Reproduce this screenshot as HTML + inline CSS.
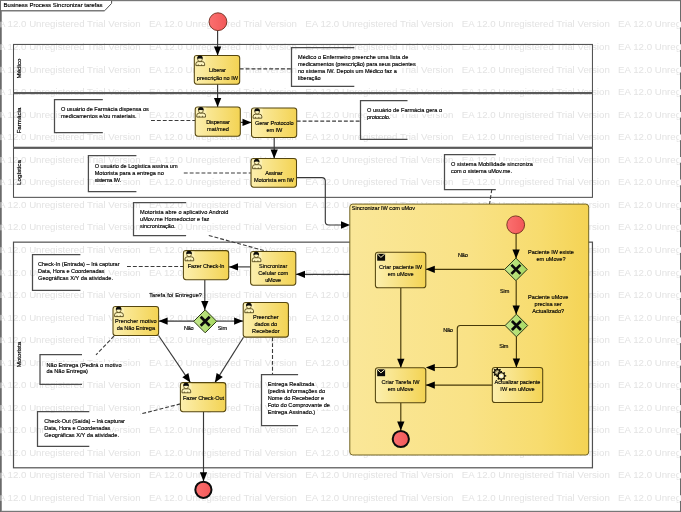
<!DOCTYPE html>
<html lang="pt"><head><meta charset="utf-8"><title>Business Process Sincronizar tarefas</title>
<style>
html,body{margin:0;padding:0;background:#fff;}
body{width:681px;height:512px;overflow:hidden;position:relative;font-family:"Liberation Sans",sans-serif;}
#c{position:absolute;left:0;top:0;width:681px;height:512px;overflow:hidden;background:#fff;}
.wm{position:absolute;font-size:9.7px;line-height:12px;height:12px;color:#e3e3e3;white-space:pre;}
svg{position:absolute;left:0;top:0;}
#wm,#tx{position:absolute;left:0;top:0;width:681px;height:512px;will-change:transform;}
.t{position:absolute;font-size:5.58px;line-height:7.0px;height:7.0px;color:#000;white-space:pre;font-weight:normal;-webkit-text-stroke:0.16px #000;}
.t .bg{background:#fff;display:inline-block;height:7.0px;}
</style></head>
<body><div id="c">
<div id="wm"><span class="wm" style="left:-7.5px;top:18.45px">EA 12.0 Unregistered Trial Version</span><span class="wm" style="left:148.9px;top:18.45px">EA 12.0 Unregistered Trial Version</span><span class="wm" style="left:305.3px;top:18.45px">EA 12.0 Unregistered Trial Version</span><span class="wm" style="left:461.70000000000005px;top:18.45px">EA 12.0 Unregistered Trial Version</span><span class="wm" style="left:618.1px;top:18.45px">EA 12.0 Unregistered Trial Version</span><span class="wm" style="left:-7.5px;top:41.00px">EA 12.0 Unregistered Trial Version</span><span class="wm" style="left:148.9px;top:41.00px">EA 12.0 Unregistered Trial Version</span><span class="wm" style="left:305.3px;top:41.00px">EA 12.0 Unregistered Trial Version</span><span class="wm" style="left:461.70000000000005px;top:41.00px">EA 12.0 Unregistered Trial Version</span><span class="wm" style="left:618.1px;top:41.00px">EA 12.0 Unregistered Trial Version</span><span class="wm" style="left:-7.5px;top:63.55px">EA 12.0 Unregistered Trial Version</span><span class="wm" style="left:148.9px;top:63.55px">EA 12.0 Unregistered Trial Version</span><span class="wm" style="left:305.3px;top:63.55px">EA 12.0 Unregistered Trial Version</span><span class="wm" style="left:461.70000000000005px;top:63.55px">EA 12.0 Unregistered Trial Version</span><span class="wm" style="left:618.1px;top:63.55px">EA 12.0 Unregistered Trial Version</span><span class="wm" style="left:-7.5px;top:86.10px">EA 12.0 Unregistered Trial Version</span><span class="wm" style="left:148.9px;top:86.10px">EA 12.0 Unregistered Trial Version</span><span class="wm" style="left:305.3px;top:86.10px">EA 12.0 Unregistered Trial Version</span><span class="wm" style="left:461.70000000000005px;top:86.10px">EA 12.0 Unregistered Trial Version</span><span class="wm" style="left:618.1px;top:86.10px">EA 12.0 Unregistered Trial Version</span><span class="wm" style="left:-7.5px;top:108.65px">EA 12.0 Unregistered Trial Version</span><span class="wm" style="left:148.9px;top:108.65px">EA 12.0 Unregistered Trial Version</span><span class="wm" style="left:305.3px;top:108.65px">EA 12.0 Unregistered Trial Version</span><span class="wm" style="left:461.70000000000005px;top:108.65px">EA 12.0 Unregistered Trial Version</span><span class="wm" style="left:618.1px;top:108.65px">EA 12.0 Unregistered Trial Version</span><span class="wm" style="left:-7.5px;top:131.20px">EA 12.0 Unregistered Trial Version</span><span class="wm" style="left:148.9px;top:131.20px">EA 12.0 Unregistered Trial Version</span><span class="wm" style="left:305.3px;top:131.20px">EA 12.0 Unregistered Trial Version</span><span class="wm" style="left:461.70000000000005px;top:131.20px">EA 12.0 Unregistered Trial Version</span><span class="wm" style="left:618.1px;top:131.20px">EA 12.0 Unregistered Trial Version</span><span class="wm" style="left:-7.5px;top:153.75px">EA 12.0 Unregistered Trial Version</span><span class="wm" style="left:148.9px;top:153.75px">EA 12.0 Unregistered Trial Version</span><span class="wm" style="left:305.3px;top:153.75px">EA 12.0 Unregistered Trial Version</span><span class="wm" style="left:461.70000000000005px;top:153.75px">EA 12.0 Unregistered Trial Version</span><span class="wm" style="left:618.1px;top:153.75px">EA 12.0 Unregistered Trial Version</span><span class="wm" style="left:-7.5px;top:176.30px">EA 12.0 Unregistered Trial Version</span><span class="wm" style="left:148.9px;top:176.30px">EA 12.0 Unregistered Trial Version</span><span class="wm" style="left:305.3px;top:176.30px">EA 12.0 Unregistered Trial Version</span><span class="wm" style="left:461.70000000000005px;top:176.30px">EA 12.0 Unregistered Trial Version</span><span class="wm" style="left:618.1px;top:176.30px">EA 12.0 Unregistered Trial Version</span><span class="wm" style="left:-7.5px;top:198.85px">EA 12.0 Unregistered Trial Version</span><span class="wm" style="left:148.9px;top:198.85px">EA 12.0 Unregistered Trial Version</span><span class="wm" style="left:305.3px;top:198.85px">EA 12.0 Unregistered Trial Version</span><span class="wm" style="left:461.70000000000005px;top:198.85px">EA 12.0 Unregistered Trial Version</span><span class="wm" style="left:618.1px;top:198.85px">EA 12.0 Unregistered Trial Version</span><span class="wm" style="left:-7.5px;top:221.40px">EA 12.0 Unregistered Trial Version</span><span class="wm" style="left:148.9px;top:221.40px">EA 12.0 Unregistered Trial Version</span><span class="wm" style="left:305.3px;top:221.40px">EA 12.0 Unregistered Trial Version</span><span class="wm" style="left:461.70000000000005px;top:221.40px">EA 12.0 Unregistered Trial Version</span><span class="wm" style="left:618.1px;top:221.40px">EA 12.0 Unregistered Trial Version</span><span class="wm" style="left:-7.5px;top:243.95px">EA 12.0 Unregistered Trial Version</span><span class="wm" style="left:148.9px;top:243.95px">EA 12.0 Unregistered Trial Version</span><span class="wm" style="left:305.3px;top:243.95px">EA 12.0 Unregistered Trial Version</span><span class="wm" style="left:461.70000000000005px;top:243.95px">EA 12.0 Unregistered Trial Version</span><span class="wm" style="left:618.1px;top:243.95px">EA 12.0 Unregistered Trial Version</span><span class="wm" style="left:-7.5px;top:266.50px">EA 12.0 Unregistered Trial Version</span><span class="wm" style="left:148.9px;top:266.50px">EA 12.0 Unregistered Trial Version</span><span class="wm" style="left:305.3px;top:266.50px">EA 12.0 Unregistered Trial Version</span><span class="wm" style="left:461.70000000000005px;top:266.50px">EA 12.0 Unregistered Trial Version</span><span class="wm" style="left:618.1px;top:266.50px">EA 12.0 Unregistered Trial Version</span><span class="wm" style="left:-7.5px;top:289.05px">EA 12.0 Unregistered Trial Version</span><span class="wm" style="left:148.9px;top:289.05px">EA 12.0 Unregistered Trial Version</span><span class="wm" style="left:305.3px;top:289.05px">EA 12.0 Unregistered Trial Version</span><span class="wm" style="left:461.70000000000005px;top:289.05px">EA 12.0 Unregistered Trial Version</span><span class="wm" style="left:618.1px;top:289.05px">EA 12.0 Unregistered Trial Version</span><span class="wm" style="left:-7.5px;top:311.60px">EA 12.0 Unregistered Trial Version</span><span class="wm" style="left:148.9px;top:311.60px">EA 12.0 Unregistered Trial Version</span><span class="wm" style="left:305.3px;top:311.60px">EA 12.0 Unregistered Trial Version</span><span class="wm" style="left:461.70000000000005px;top:311.60px">EA 12.0 Unregistered Trial Version</span><span class="wm" style="left:618.1px;top:311.60px">EA 12.0 Unregistered Trial Version</span><span class="wm" style="left:-7.5px;top:334.15px">EA 12.0 Unregistered Trial Version</span><span class="wm" style="left:148.9px;top:334.15px">EA 12.0 Unregistered Trial Version</span><span class="wm" style="left:305.3px;top:334.15px">EA 12.0 Unregistered Trial Version</span><span class="wm" style="left:461.70000000000005px;top:334.15px">EA 12.0 Unregistered Trial Version</span><span class="wm" style="left:618.1px;top:334.15px">EA 12.0 Unregistered Trial Version</span><span class="wm" style="left:-7.5px;top:356.70px">EA 12.0 Unregistered Trial Version</span><span class="wm" style="left:148.9px;top:356.70px">EA 12.0 Unregistered Trial Version</span><span class="wm" style="left:305.3px;top:356.70px">EA 12.0 Unregistered Trial Version</span><span class="wm" style="left:461.70000000000005px;top:356.70px">EA 12.0 Unregistered Trial Version</span><span class="wm" style="left:618.1px;top:356.70px">EA 12.0 Unregistered Trial Version</span><span class="wm" style="left:-7.5px;top:379.25px">EA 12.0 Unregistered Trial Version</span><span class="wm" style="left:148.9px;top:379.25px">EA 12.0 Unregistered Trial Version</span><span class="wm" style="left:305.3px;top:379.25px">EA 12.0 Unregistered Trial Version</span><span class="wm" style="left:461.70000000000005px;top:379.25px">EA 12.0 Unregistered Trial Version</span><span class="wm" style="left:618.1px;top:379.25px">EA 12.0 Unregistered Trial Version</span><span class="wm" style="left:-7.5px;top:401.80px">EA 12.0 Unregistered Trial Version</span><span class="wm" style="left:148.9px;top:401.80px">EA 12.0 Unregistered Trial Version</span><span class="wm" style="left:305.3px;top:401.80px">EA 12.0 Unregistered Trial Version</span><span class="wm" style="left:461.70000000000005px;top:401.80px">EA 12.0 Unregistered Trial Version</span><span class="wm" style="left:618.1px;top:401.80px">EA 12.0 Unregistered Trial Version</span><span class="wm" style="left:-7.5px;top:424.35px">EA 12.0 Unregistered Trial Version</span><span class="wm" style="left:148.9px;top:424.35px">EA 12.0 Unregistered Trial Version</span><span class="wm" style="left:305.3px;top:424.35px">EA 12.0 Unregistered Trial Version</span><span class="wm" style="left:461.70000000000005px;top:424.35px">EA 12.0 Unregistered Trial Version</span><span class="wm" style="left:618.1px;top:424.35px">EA 12.0 Unregistered Trial Version</span><span class="wm" style="left:-7.5px;top:446.90px">EA 12.0 Unregistered Trial Version</span><span class="wm" style="left:148.9px;top:446.90px">EA 12.0 Unregistered Trial Version</span><span class="wm" style="left:305.3px;top:446.90px">EA 12.0 Unregistered Trial Version</span><span class="wm" style="left:461.70000000000005px;top:446.90px">EA 12.0 Unregistered Trial Version</span><span class="wm" style="left:618.1px;top:446.90px">EA 12.0 Unregistered Trial Version</span><span class="wm" style="left:-7.5px;top:469.45px">EA 12.0 Unregistered Trial Version</span><span class="wm" style="left:148.9px;top:469.45px">EA 12.0 Unregistered Trial Version</span><span class="wm" style="left:305.3px;top:469.45px">EA 12.0 Unregistered Trial Version</span><span class="wm" style="left:461.70000000000005px;top:469.45px">EA 12.0 Unregistered Trial Version</span><span class="wm" style="left:618.1px;top:469.45px">EA 12.0 Unregistered Trial Version</span><span class="wm" style="left:-7.5px;top:492.00px">EA 12.0 Unregistered Trial Version</span><span class="wm" style="left:148.9px;top:492.00px">EA 12.0 Unregistered Trial Version</span><span class="wm" style="left:305.3px;top:492.00px">EA 12.0 Unregistered Trial Version</span><span class="wm" style="left:461.70000000000005px;top:492.00px">EA 12.0 Unregistered Trial Version</span><span class="wm" style="left:618.1px;top:492.00px">EA 12.0 Unregistered Trial Version</span><span class="wm" style="left:-7.5px;top:514.55px">EA 12.0 Unregistered Trial Version</span><span class="wm" style="left:148.9px;top:514.55px">EA 12.0 Unregistered Trial Version</span><span class="wm" style="left:305.3px;top:514.55px">EA 12.0 Unregistered Trial Version</span><span class="wm" style="left:461.70000000000005px;top:514.55px">EA 12.0 Unregistered Trial Version</span><span class="wm" style="left:618.1px;top:514.55px">EA 12.0 Unregistered Trial Version</span></div>
<svg width="681" height="512" viewBox="0 0 681 512">
<defs>
<linearGradient id="tg" x1="0" y1="0" x2="1" y2="0"><stop offset="0" stop-color="#fcefae"/><stop offset="1" stop-color="#f3d353"/></linearGradient>
<linearGradient id="sg" x1="0" y1="0" x2="1" y2="0"><stop offset="0" stop-color="#fae798"/><stop offset="0.5" stop-color="#f9e286"/><stop offset="0.8" stop-color="#f7dc6e"/><stop offset="1" stop-color="#f4d354"/></linearGradient>
<linearGradient id="gg" x1="0" y1="0" x2="1" y2="0"><stop offset="0" stop-color="#c4e88c"/><stop offset="1" stop-color="#a6d862"/></linearGradient>
<linearGradient id="rg" x1="0" y1="0" x2="1" y2="0"><stop offset="0" stop-color="#fb7070"/><stop offset="1" stop-color="#f25858"/></linearGradient>
</defs>
<rect x="0" y="0" width="681" height="1" fill="#777"/><rect x="0" y="1" width="681" height="1" fill="#e6e6e6"/><rect x="0" y="511" width="681" height="1" fill="#777"/><rect x="0" y="510" width="681" height="1" fill="#e2e2e2"/><rect x="0" y="0" width="1" height="512" fill="#6a6a6a"/><rect x="1" y="1" width="1" height="510" fill="#909090"/><rect x="680" y="0" width="1" height="512" fill="#6a6a6a"/>
<rect x="0" y="21.70" width="2" height="5.7" fill="#fff" opacity="0.4"/><rect x="679" y="21.70" width="2" height="5.7" fill="#fff" opacity="0.93"/>
<rect x="0" y="44.25" width="2" height="5.7" fill="#fff" opacity="0.4"/><rect x="679" y="44.25" width="2" height="5.7" fill="#fff" opacity="0.93"/>
<rect x="0" y="66.80" width="2" height="5.7" fill="#fff" opacity="0.4"/><rect x="679" y="66.80" width="2" height="5.7" fill="#fff" opacity="0.93"/>
<rect x="0" y="89.35" width="2" height="5.7" fill="#fff" opacity="0.4"/><rect x="679" y="89.35" width="2" height="5.7" fill="#fff" opacity="0.93"/>
<rect x="0" y="111.90" width="2" height="5.7" fill="#fff" opacity="0.4"/><rect x="679" y="111.90" width="2" height="5.7" fill="#fff" opacity="0.93"/>
<rect x="0" y="134.45" width="2" height="5.7" fill="#fff" opacity="0.4"/><rect x="679" y="134.45" width="2" height="5.7" fill="#fff" opacity="0.93"/>
<rect x="0" y="157.00" width="2" height="5.7" fill="#fff" opacity="0.4"/><rect x="679" y="157.00" width="2" height="5.7" fill="#fff" opacity="0.93"/>
<rect x="0" y="179.55" width="2" height="5.7" fill="#fff" opacity="0.4"/><rect x="679" y="179.55" width="2" height="5.7" fill="#fff" opacity="0.93"/>
<rect x="0" y="202.10" width="2" height="5.7" fill="#fff" opacity="0.4"/><rect x="679" y="202.10" width="2" height="5.7" fill="#fff" opacity="0.93"/>
<rect x="0" y="224.65" width="2" height="5.7" fill="#fff" opacity="0.4"/><rect x="679" y="224.65" width="2" height="5.7" fill="#fff" opacity="0.93"/>
<rect x="0" y="247.20" width="2" height="5.7" fill="#fff" opacity="0.4"/><rect x="679" y="247.20" width="2" height="5.7" fill="#fff" opacity="0.93"/>
<rect x="0" y="269.75" width="2" height="5.7" fill="#fff" opacity="0.4"/><rect x="679" y="269.75" width="2" height="5.7" fill="#fff" opacity="0.93"/>
<rect x="0" y="292.30" width="2" height="5.7" fill="#fff" opacity="0.4"/><rect x="679" y="292.30" width="2" height="5.7" fill="#fff" opacity="0.93"/>
<rect x="0" y="314.85" width="2" height="5.7" fill="#fff" opacity="0.4"/><rect x="679" y="314.85" width="2" height="5.7" fill="#fff" opacity="0.93"/>
<rect x="0" y="337.40" width="2" height="5.7" fill="#fff" opacity="0.4"/><rect x="679" y="337.40" width="2" height="5.7" fill="#fff" opacity="0.93"/>
<rect x="0" y="359.95" width="2" height="5.7" fill="#fff" opacity="0.4"/><rect x="679" y="359.95" width="2" height="5.7" fill="#fff" opacity="0.93"/>
<rect x="0" y="382.50" width="2" height="5.7" fill="#fff" opacity="0.4"/><rect x="679" y="382.50" width="2" height="5.7" fill="#fff" opacity="0.93"/>
<rect x="0" y="405.05" width="2" height="5.7" fill="#fff" opacity="0.4"/><rect x="679" y="405.05" width="2" height="5.7" fill="#fff" opacity="0.93"/>
<rect x="0" y="427.60" width="2" height="5.7" fill="#fff" opacity="0.4"/><rect x="679" y="427.60" width="2" height="5.7" fill="#fff" opacity="0.93"/>
<rect x="0" y="450.15" width="2" height="5.7" fill="#fff" opacity="0.4"/><rect x="679" y="450.15" width="2" height="5.7" fill="#fff" opacity="0.93"/>
<rect x="0" y="472.70" width="2" height="5.7" fill="#fff" opacity="0.4"/><rect x="679" y="472.70" width="2" height="5.7" fill="#fff" opacity="0.93"/>
<rect x="0" y="495.25" width="2" height="5.7" fill="#fff" opacity="0.4"/><rect x="679" y="495.25" width="2" height="5.7" fill="#fff" opacity="0.93"/>
<path d="M1,1 L111.6,1 L111.6,3.4 L104.6,10.7 L1,10.7 Z" fill="#fff"/>
<path d="M1,10.75 L104.6,10.75" fill="none" stroke="#7a7a7a" stroke-width="1.5"/>
<path d="M104.6,10.75 L111.6,3.4 L111.6,0.8" fill="none" stroke="#505050" stroke-width="1.0"/>
<rect x="13.5" y="44.45" width="578.95" height="48.14999999999999" fill="none" stroke="#505050" stroke-width="1.05"/>
<rect x="13.5" y="93.6" width="578.95" height="53.650000000000006" fill="none" stroke="#505050" stroke-width="1.05"/>
<rect x="13.5" y="148.25" width="578.95" height="49.099999999999994" fill="none" stroke="#505050" stroke-width="1.05"/>
<rect x="13.5" y="242.15" width="578.95" height="225.65" fill="none" stroke="#505050" stroke-width="1.2"/>
<path d="M13.5,93.1 L592.45,93.1 M13.5,147.75 L592.45,147.75" fill="none" stroke="#5a5a5a" stroke-width="1.6"/>
<path d="M102.80,99.50 L54.50,99.50 L54.50,132.50 L102.80,132.50" fill="none" stroke="#4c4c4c" stroke-width="1.25"/>
<path d="M354.30,47.50 L291.50,47.50 L291.50,86.40 L354.30,86.40" fill="none" stroke="#4c4c4c" stroke-width="1.25"/>
<path d="M407.50,100.50 L360.50,100.50 L360.50,139.40 L407.50,139.40" fill="none" stroke="#4c4c4c" stroke-width="1.25"/>
<path d="M136.40,155.50 L88.40,155.50 L88.40,191.50 L136.40,191.50" fill="none" stroke="#4c4c4c" stroke-width="1.25"/>
<path d="M186.10,202.50 L133.50,202.50 L133.50,235.50 L186.10,235.50" fill="none" stroke="#4c4c4c" stroke-width="1.25"/>
<path d="M495.80,154.50 L444.50,154.50 L444.50,189.50 L495.80,189.50" fill="none" stroke="#4c4c4c" stroke-width="1.25"/>
<path d="M80.40,254.50 L32.50,254.50 L32.50,290.30 L80.40,290.30" fill="none" stroke="#4c4c4c" stroke-width="1.25"/>
<path d="M82.00,354.50 L40.00,354.50 L40.00,384.30 L82.00,384.30" fill="none" stroke="#4c4c4c" stroke-width="1.25"/>
<path d="M89.30,411.50 L37.50,411.50 L37.50,446.30 L89.30,446.30" fill="none" stroke="#4c4c4c" stroke-width="1.25"/>
<path d="M298.10,374.50 L261.50,374.50 L261.50,425.50 L298.10,425.50" fill="none" stroke="#4c4c4c" stroke-width="1.25"/>
<path d="M151.00,120.50 L195.20,120.50" fill="none" stroke="#3c3c3c" stroke-width="1.1" stroke-dasharray="3.9 2.0"/>
<path d="M239.70,68.90 L291.50,68.90" fill="none" stroke="#3c3c3c" stroke-width="1.1" stroke-dasharray="3.9 2.0"/>
<path d="M296.70,121.10 L360.50,121.10" fill="none" stroke="#3c3c3c" stroke-width="1.1" stroke-dasharray="3.9 2.0"/>
<path d="M183.80,173.00 L251.00,173.00" fill="none" stroke="#3c3c3c" stroke-width="1.1" stroke-dasharray="3.9 2.0"/>
<path d="M208.80,235.50 L267.50,251.50" fill="none" stroke="#3c3c3c" stroke-width="1.1" stroke-dasharray="3.9 2.0"/>
<path d="M491.80,189.30 L489.50,204.30" fill="none" stroke="#3c3c3c" stroke-width="1.1" stroke-dasharray="3.9 2.0"/>
<path d="M127.00,266.50 L183.40,266.50" fill="none" stroke="#3c3c3c" stroke-width="1.1" stroke-dasharray="3.9 2.0"/>
<path d="M114.00,336.00 L96.00,354.80" fill="none" stroke="#3c3c3c" stroke-width="1.1" stroke-dasharray="3.9 2.0"/>
<path d="M272.50,337.30 L272.50,374.30" fill="none" stroke="#3c3c3c" stroke-width="1.1" stroke-dasharray="3.9 2.0"/>
<path d="M180.40,403.90 L140.30,414.10" fill="none" stroke="#3c3c3c" stroke-width="1.1" stroke-dasharray="3.9 2.0"/>
<rect x="349.8" y="204.1" width="238.90000000000003" height="250.9" rx="3" fill="url(#sg)" stroke="#726424" stroke-width="1.0"/>
<path d="M217.60,30.50 L217.60,55.50" fill="none" stroke="#383838" stroke-width="1.15"/>
<polygon points="217.60,55.50 213.95,46.50 221.25,46.50" fill="#000"/>
<path d="M217.60,84.30 L217.60,106.90" fill="none" stroke="#383838" stroke-width="1.15"/>
<polygon points="217.60,106.90 213.95,97.90 221.25,97.90" fill="#000"/>
<path d="M240.30,122.40 L251.50,122.40" fill="none" stroke="#383838" stroke-width="1.15"/>
<polygon points="251.50,122.40 242.50,126.05 242.50,118.75" fill="#000"/>
<path d="M274.20,137.40 L274.20,158.50" fill="none" stroke="#383838" stroke-width="1.15"/>
<polygon points="274.20,158.50 270.55,149.50 277.85,149.50" fill="#000"/>
<path d="M296.5,177.6 L321.8,177.6 Q325.3,177.6 325.3,181.1 L325.3,221.5 Q325.3,225 328.8,225 L345,225" fill="none" stroke="#383838" stroke-width="1.15"/>
<polygon points="350.00,225.00 341.00,228.65 341.00,221.35" fill="#000"/>
<path d="M350.00,274.30 L296.00,274.30" fill="none" stroke="#383838" stroke-width="1.15"/>
<polygon points="296.00,274.30 305.00,270.65 305.00,277.95" fill="#000"/>
<path d="M250.60,266.90 L229.00,266.90" fill="none" stroke="#383838" stroke-width="1.15"/>
<polygon points="229.00,266.90 238.00,263.25 238.00,270.55" fill="#000"/>
<path d="M204.80,279.80 L204.80,309.90" fill="none" stroke="#383838" stroke-width="1.15"/>
<polygon points="204.80,309.90 201.15,300.90 208.45,300.90" fill="#000"/>
<path d="M194.00,321.10 L158.60,321.10" fill="none" stroke="#383838" stroke-width="1.15"/>
<polygon points="158.60,321.10 167.60,317.45 167.60,324.75" fill="#000"/>
<path d="M216.50,321.10 L243.10,321.10" fill="none" stroke="#383838" stroke-width="1.15"/>
<polygon points="243.10,321.10 234.10,324.75 234.10,317.45" fill="#000"/>
<path d="M158.50,335.50 L190.40,382.60" fill="none" stroke="#383838" stroke-width="1.15"/>
<polygon points="190.40,382.60 182.33,377.20 188.38,373.10" fill="#000"/>
<path d="M243.50,337.30 L214.90,382.60" fill="none" stroke="#383838" stroke-width="1.15"/>
<polygon points="214.90,382.60 216.62,373.04 222.79,376.94" fill="#000"/>
<path d="M203.50,411.70 L203.50,481.30" fill="none" stroke="#383838" stroke-width="1.15"/>
<polygon points="203.50,481.30 199.85,472.30 207.15,472.30" fill="#000"/>
<path d="M516.10,233.50 L516.10,258.60" fill="none" stroke="#46390a" stroke-width="1.15"/>
<polygon points="516.10,258.60 512.45,249.60 519.75,249.60" fill="#000"/>
<path d="M516.20,280.40 L516.20,314.60" fill="none" stroke="#46390a" stroke-width="1.15"/>
<polygon points="516.20,314.60 512.55,305.60 519.85,305.60" fill="#000"/>
<path d="M516.40,336.20 L516.40,367.40" fill="none" stroke="#46390a" stroke-width="1.15"/>
<polygon points="516.40,367.40 512.75,358.40 520.05,358.40" fill="#000"/>
<path d="M504.50,269.30 L425.80,269.30" fill="none" stroke="#46390a" stroke-width="1.15"/>
<polygon points="425.80,269.30 434.80,265.65 434.80,272.95" fill="#000"/>
<path d="M400.80,287.80 L400.80,367.80" fill="none" stroke="#46390a" stroke-width="1.15"/>
<polygon points="400.80,367.80 397.15,358.80 404.45,358.80" fill="#000"/>
<path d="M505,325.5 L460.3,325.5 Q457.3,325.5 457.3,328.5 L457.3,364.5 Q457.3,367.5 454.3,367.5 L432,367.5" fill="none" stroke="#46390a" stroke-width="1.15"/>
<polygon points="425.80,367.60 434.80,363.95 434.80,371.25" fill="#000"/>
<path d="M492.50,385.10 L425.80,385.10" fill="none" stroke="#46390a" stroke-width="1.15"/>
<polygon points="425.80,385.10 434.80,381.45 434.80,388.75" fill="#000"/>
<path d="M400.80,402.80 L400.80,430.40" fill="none" stroke="#46390a" stroke-width="1.15"/>
<polygon points="400.80,430.40 397.15,421.40 404.45,421.40" fill="#000"/>
<rect x="194.30" y="55.40" width="45.40" height="28.80" rx="2.6" fill="url(#tg)" stroke="#55460f" stroke-width="1.05"/>
<g transform="translate(194.30,55.40)"><rect x="0.9" y="0.7" width="10.2" height="10.2" fill="#fdf6c6" opacity="0.55"/><path d="M1.6,10.2 L1.6,8.3 Q1.6,6.3 4.0,6.2 L7.9,6.2 Q10.3,6.3 10.3,8.3 L10.3,10.2 Z" fill="#fdf5c0" stroke="#4a3c0c" stroke-width="0.85"/><path d="M4.0,8.9 L4.0,10.2 M7.3,8.9 L7.3,10.2" stroke="#4a3c0c" stroke-width="0.7" fill="none"/><circle cx="5.65" cy="3.7" r="2.35" fill="#fdf5c0" stroke="#4a3c0c" stroke-width="0.7"/><path d="M2.85,3.45 Q2.7,0.15 5.65,0.15 Q8.6,0.15 8.45,3.45 Q5.65,2.7 2.85,3.45 Z" fill="#0a0a0a"/></g>
<rect x="195.20" y="106.90" width="45.10" height="29.30" rx="2.6" fill="url(#tg)" stroke="#55460f" stroke-width="1.05"/>
<g transform="translate(195.20,106.90)"><rect x="0.9" y="0.7" width="10.2" height="10.2" fill="#fdf6c6" opacity="0.55"/><path d="M1.6,10.2 L1.6,8.3 Q1.6,6.3 4.0,6.2 L7.9,6.2 Q10.3,6.3 10.3,8.3 L10.3,10.2 Z" fill="#fdf5c0" stroke="#4a3c0c" stroke-width="0.85"/><path d="M4.0,8.9 L4.0,10.2 M7.3,8.9 L7.3,10.2" stroke="#4a3c0c" stroke-width="0.7" fill="none"/><circle cx="5.65" cy="3.7" r="2.35" fill="#fdf5c0" stroke="#4a3c0c" stroke-width="0.7"/><path d="M2.85,3.45 Q2.7,0.15 5.65,0.15 Q8.6,0.15 8.45,3.45 Q5.65,2.7 2.85,3.45 Z" fill="#0a0a0a"/></g>
<rect x="251.50" y="108.00" width="45.20" height="29.40" rx="2.6" fill="url(#tg)" stroke="#55460f" stroke-width="1.05"/>
<g transform="translate(251.50,108.00)"><rect x="0.9" y="0.7" width="10.2" height="10.2" fill="#fdf6c6" opacity="0.55"/><path d="M1.6,10.2 L1.6,8.3 Q1.6,6.3 4.0,6.2 L7.9,6.2 Q10.3,6.3 10.3,8.3 L10.3,10.2 Z" fill="#fdf5c0" stroke="#4a3c0c" stroke-width="0.85"/><path d="M4.0,8.9 L4.0,10.2 M7.3,8.9 L7.3,10.2" stroke="#4a3c0c" stroke-width="0.7" fill="none"/><circle cx="5.65" cy="3.7" r="2.35" fill="#fdf5c0" stroke="#4a3c0c" stroke-width="0.7"/><path d="M2.85,3.45 Q2.7,0.15 5.65,0.15 Q8.6,0.15 8.45,3.45 Q5.65,2.7 2.85,3.45 Z" fill="#0a0a0a"/></g>
<rect x="251.00" y="158.50" width="45.50" height="28.70" rx="2.6" fill="url(#tg)" stroke="#55460f" stroke-width="1.05"/>
<g transform="translate(251.00,158.50)"><rect x="0.9" y="0.7" width="10.2" height="10.2" fill="#fdf6c6" opacity="0.55"/><path d="M1.6,10.2 L1.6,8.3 Q1.6,6.3 4.0,6.2 L7.9,6.2 Q10.3,6.3 10.3,8.3 L10.3,10.2 Z" fill="#fdf5c0" stroke="#4a3c0c" stroke-width="0.85"/><path d="M4.0,8.9 L4.0,10.2 M7.3,8.9 L7.3,10.2" stroke="#4a3c0c" stroke-width="0.7" fill="none"/><circle cx="5.65" cy="3.7" r="2.35" fill="#fdf5c0" stroke="#4a3c0c" stroke-width="0.7"/><path d="M2.85,3.45 Q2.7,0.15 5.65,0.15 Q8.6,0.15 8.45,3.45 Q5.65,2.7 2.85,3.45 Z" fill="#0a0a0a"/></g>
<rect x="183.40" y="250.60" width="45.30" height="29.10" rx="2.6" fill="url(#tg)" stroke="#55460f" stroke-width="1.05"/>
<g transform="translate(183.40,250.60)"><rect x="0.9" y="0.7" width="10.2" height="10.2" fill="#fdf6c6" opacity="0.55"/><path d="M1.6,10.2 L1.6,8.3 Q1.6,6.3 4.0,6.2 L7.9,6.2 Q10.3,6.3 10.3,8.3 L10.3,10.2 Z" fill="#fdf5c0" stroke="#4a3c0c" stroke-width="0.85"/><path d="M4.0,8.9 L4.0,10.2 M7.3,8.9 L7.3,10.2" stroke="#4a3c0c" stroke-width="0.7" fill="none"/><circle cx="5.65" cy="3.7" r="2.35" fill="#fdf5c0" stroke="#4a3c0c" stroke-width="0.7"/><path d="M2.85,3.45 Q2.7,0.15 5.65,0.15 Q8.6,0.15 8.45,3.45 Q5.65,2.7 2.85,3.45 Z" fill="#0a0a0a"/></g>
<rect x="250.60" y="251.50" width="45.20" height="33.70" rx="2.6" fill="url(#tg)" stroke="#55460f" stroke-width="1.05"/>
<g transform="translate(250.60,251.50)"><rect x="0.9" y="0.7" width="10.2" height="10.2" fill="#fdf6c6" opacity="0.55"/><path d="M1.6,10.2 L1.6,8.3 Q1.6,6.3 4.0,6.2 L7.9,6.2 Q10.3,6.3 10.3,8.3 L10.3,10.2 Z" fill="#fdf5c0" stroke="#4a3c0c" stroke-width="0.85"/><path d="M4.0,8.9 L4.0,10.2 M7.3,8.9 L7.3,10.2" stroke="#4a3c0c" stroke-width="0.7" fill="none"/><circle cx="5.65" cy="3.7" r="2.35" fill="#fdf5c0" stroke="#4a3c0c" stroke-width="0.7"/><path d="M2.85,3.45 Q2.7,0.15 5.65,0.15 Q8.6,0.15 8.45,3.45 Q5.65,2.7 2.85,3.45 Z" fill="#0a0a0a"/></g>
<rect x="113.00" y="306.40" width="45.60" height="29.10" rx="2.6" fill="url(#tg)" stroke="#55460f" stroke-width="1.05"/>
<g transform="translate(113.00,306.40)"><rect x="0.9" y="0.7" width="10.2" height="10.2" fill="#fdf6c6" opacity="0.55"/><path d="M1.6,10.2 L1.6,8.3 Q1.6,6.3 4.0,6.2 L7.9,6.2 Q10.3,6.3 10.3,8.3 L10.3,10.2 Z" fill="#fdf5c0" stroke="#4a3c0c" stroke-width="0.85"/><path d="M4.0,8.9 L4.0,10.2 M7.3,8.9 L7.3,10.2" stroke="#4a3c0c" stroke-width="0.7" fill="none"/><circle cx="5.65" cy="3.7" r="2.35" fill="#fdf5c0" stroke="#4a3c0c" stroke-width="0.7"/><path d="M2.85,3.45 Q2.7,0.15 5.65,0.15 Q8.6,0.15 8.45,3.45 Q5.65,2.7 2.85,3.45 Z" fill="#0a0a0a"/></g>
<rect x="243.20" y="302.50" width="45.20" height="34.60" rx="2.6" fill="url(#tg)" stroke="#55460f" stroke-width="1.05"/>
<g transform="translate(243.20,302.50)"><rect x="0.9" y="0.7" width="10.2" height="10.2" fill="#fdf6c6" opacity="0.55"/><path d="M1.6,10.2 L1.6,8.3 Q1.6,6.3 4.0,6.2 L7.9,6.2 Q10.3,6.3 10.3,8.3 L10.3,10.2 Z" fill="#fdf5c0" stroke="#4a3c0c" stroke-width="0.85"/><path d="M4.0,8.9 L4.0,10.2 M7.3,8.9 L7.3,10.2" stroke="#4a3c0c" stroke-width="0.7" fill="none"/><circle cx="5.65" cy="3.7" r="2.35" fill="#fdf5c0" stroke="#4a3c0c" stroke-width="0.7"/><path d="M2.85,3.45 Q2.7,0.15 5.65,0.15 Q8.6,0.15 8.45,3.45 Q5.65,2.7 2.85,3.45 Z" fill="#0a0a0a"/></g>
<rect x="180.40" y="382.60" width="45.40" height="29.10" rx="2.6" fill="url(#tg)" stroke="#55460f" stroke-width="1.05"/>
<g transform="translate(180.40,382.60)"><rect x="0.9" y="0.7" width="10.2" height="10.2" fill="#fdf6c6" opacity="0.55"/><path d="M1.6,10.2 L1.6,8.3 Q1.6,6.3 4.0,6.2 L7.9,6.2 Q10.3,6.3 10.3,8.3 L10.3,10.2 Z" fill="#fdf5c0" stroke="#4a3c0c" stroke-width="0.85"/><path d="M4.0,8.9 L4.0,10.2 M7.3,8.9 L7.3,10.2" stroke="#4a3c0c" stroke-width="0.7" fill="none"/><circle cx="5.65" cy="3.7" r="2.35" fill="#fdf5c0" stroke="#4a3c0c" stroke-width="0.7"/><path d="M2.85,3.45 Q2.7,0.15 5.65,0.15 Q8.6,0.15 8.45,3.45 Q5.65,2.7 2.85,3.45 Z" fill="#0a0a0a"/></g>
<rect x="375.40" y="252.30" width="50.40" height="35.50" rx="2.6" fill="url(#tg)" stroke="#55460f" stroke-width="1.05"/>
<g transform="translate(375.40,252.30)"><rect x="1.8" y="1.5" width="7.9" height="6.9" fill="#0a0a0a"/><path d="M2.0,1.7 L5.5,5.1 L9.4,1.7" fill="none" stroke="#fdf3c4" stroke-width="1.0"/></g>
<rect x="375.40" y="367.80" width="50.40" height="35.00" rx="2.6" fill="url(#tg)" stroke="#55460f" stroke-width="1.05"/>
<g transform="translate(375.40,367.80)"><rect x="1.8" y="1.5" width="7.9" height="6.9" fill="#0a0a0a"/><path d="M2.0,1.7 L5.5,5.1 L9.4,1.7" fill="none" stroke="#fdf3c4" stroke-width="1.0"/></g>
<rect x="492.30" y="367.40" width="50.40" height="35.10" rx="2.6" fill="url(#tg)" stroke="#55460f" stroke-width="1.05"/>
<g transform="translate(497.30,372.40)"><line x1="0" y1="-2.60" x2="0" y2="-4.50" stroke="#0e0c04" stroke-width="1.45" transform="rotate(0.0)"/><line x1="0" y1="-2.60" x2="0" y2="-4.50" stroke="#0e0c04" stroke-width="1.45" transform="rotate(45.0)"/><line x1="0" y1="-2.60" x2="0" y2="-4.50" stroke="#0e0c04" stroke-width="1.45" transform="rotate(90.0)"/><line x1="0" y1="-2.60" x2="0" y2="-4.50" stroke="#0e0c04" stroke-width="1.45" transform="rotate(135.0)"/><line x1="0" y1="-2.60" x2="0" y2="-4.50" stroke="#0e0c04" stroke-width="1.45" transform="rotate(180.0)"/><line x1="0" y1="-2.60" x2="0" y2="-4.50" stroke="#0e0c04" stroke-width="1.45" transform="rotate(225.0)"/><line x1="0" y1="-2.60" x2="0" y2="-4.50" stroke="#0e0c04" stroke-width="1.45" transform="rotate(270.0)"/><line x1="0" y1="-2.60" x2="0" y2="-4.50" stroke="#0e0c04" stroke-width="1.45" transform="rotate(315.0)"/><circle r="2.70" fill="#fbf0b4" stroke="#0e0c04" stroke-width="1.15"/><circle r="1.50" fill="#fdf6c8" stroke="#3a3010" stroke-width="0.5"/></g>
<g transform="translate(501.30,375.90)"><line x1="0" y1="-3.00" x2="0" y2="-4.90" stroke="#0e0c04" stroke-width="1.45" transform="rotate(0.0)"/><line x1="0" y1="-3.00" x2="0" y2="-4.90" stroke="#0e0c04" stroke-width="1.45" transform="rotate(45.0)"/><line x1="0" y1="-3.00" x2="0" y2="-4.90" stroke="#0e0c04" stroke-width="1.45" transform="rotate(90.0)"/><line x1="0" y1="-3.00" x2="0" y2="-4.90" stroke="#0e0c04" stroke-width="1.45" transform="rotate(135.0)"/><line x1="0" y1="-3.00" x2="0" y2="-4.90" stroke="#0e0c04" stroke-width="1.45" transform="rotate(180.0)"/><line x1="0" y1="-3.00" x2="0" y2="-4.90" stroke="#0e0c04" stroke-width="1.45" transform="rotate(225.0)"/><line x1="0" y1="-3.00" x2="0" y2="-4.90" stroke="#0e0c04" stroke-width="1.45" transform="rotate(270.0)"/><line x1="0" y1="-3.00" x2="0" y2="-4.90" stroke="#0e0c04" stroke-width="1.45" transform="rotate(315.0)"/><circle r="3.10" fill="#fbf0b4" stroke="#0e0c04" stroke-width="1.15"/><circle r="1.15" fill="#fff" stroke="#3a3010" stroke-width="0.0"/></g>
<polygon points="205.20,309.80 216.70,321.30 205.20,332.80 193.70,321.30" fill="url(#gg)" stroke="#2c3a16" stroke-width="1.0"/>
<path d="M200.70,316.80 L209.70,325.80 M200.70,325.80 L209.70,316.80" stroke="#0a0a0a" stroke-width="2.7" fill="none"/>
<polygon points="515.90,258.10 527.20,269.40 515.90,280.70 504.60,269.40" fill="url(#gg)" stroke="#2c3a16" stroke-width="1.0"/>
<path d="M511.40,264.90 L520.40,273.90 M511.40,273.90 L520.40,264.90" stroke="#0a0a0a" stroke-width="2.7" fill="none"/>
<polygon points="516.40,314.20 527.70,325.50 516.40,336.80 505.10,325.50" fill="url(#gg)" stroke="#2c3a16" stroke-width="1.0"/>
<path d="M511.90,321.00 L520.90,330.00 M511.90,330.00 L520.90,321.00" stroke="#0a0a0a" stroke-width="2.7" fill="none"/>
<circle cx="217.95" cy="21.70" r="8.9" fill="url(#rg)" stroke="#6e2a1c" stroke-width="0.9"/>
<circle cx="515.70" cy="224.80" r="8.9" fill="url(#rg)" stroke="#6e2a1c" stroke-width="0.9"/>
<circle cx="203.40" cy="489.80" r="8.1" fill="url(#rg)" stroke="#0c0c0c" stroke-width="2.0"/>
<circle cx="400.80" cy="439.00" r="8.1" fill="url(#rg)" stroke="#0c0c0c" stroke-width="2.0"/>
</svg>
<div id="tx"><div class="t " style="top:2.10px;left:3.60px;font-size:6.0px;letter-spacing:-0.011px;">Business Process Sincronizar tarefas</div><div class="t v" style="font-size:6.2px;-webkit-text-stroke:0.2px #000;color:#000;left:-31.90px;top:64.80px;width:100px;text-align:center;transform:rotate(-90deg);">Médico</div><div class="t v" style="font-size:6.2px;-webkit-text-stroke:0.2px #000;color:#000;left:-31.90px;top:116.70px;width:100px;text-align:center;transform:rotate(-90deg);">Farmácia</div><div class="t v" style="font-size:6.2px;-webkit-text-stroke:0.2px #000;color:#000;left:-31.90px;top:169.10px;width:100px;text-align:center;transform:rotate(-90deg);">Logística</div><div class="t v" style="font-size:6.2px;-webkit-text-stroke:0.2px #000;color:#000;left:-31.90px;top:351.30px;width:100px;text-align:center;transform:rotate(-90deg);">Motorista</div><div class="t " style="top:105.50px;left:60.90px;letter-spacing:-0.003px;"><span class="bg">O usuário de Farmácia dispensa os</span></div><div class="t " style="top:112.50px;left:60.90px;letter-spacing:0.047px;"><span class="bg">medicamentos e/ou materiais.</span></div><div class="t " style="top:54.00px;left:298.00px;letter-spacing:0.062px;"><span class="bg">Médico o Enfermeiro preenche uma lista de</span></div><div class="t " style="top:61.00px;left:298.00px;letter-spacing:-0.023px;"><span class="bg">medicamentos (prescrição) para seus pacientes</span></div><div class="t " style="top:68.00px;left:298.00px;letter-spacing:0.022px;"><span class="bg">no sistema IW. Depois um Médico faz a</span></div><div class="t " style="top:74.80px;left:298.00px;letter-spacing:-0.006px;"><span class="bg">liberação</span></div><div class="t " style="top:106.90px;left:367.00px;letter-spacing:0.036px;"><span class="bg">O usuário de Farmácia gera o</span></div><div class="t " style="top:113.90px;left:367.00px;letter-spacing:-0.123px;"><span class="bg">protocolo.</span></div><div class="t " style="top:162.50px;left:94.70px;letter-spacing:0.003px;"><span class="bg">O usuário de Logística assina um</span></div><div class="t " style="top:169.50px;left:94.70px;letter-spacing:0.021px;"><span class="bg">Motorista para a entrega no</span></div><div class="t " style="top:176.50px;left:94.70px;letter-spacing:-0.250px;"><span class="bg">sistema IW.</span></div><div class="t " style="top:208.90px;left:140.00px;letter-spacing:0.082px;"><span class="bg">Motorista abre o aplicativo Android</span></div><div class="t " style="top:215.70px;left:140.00px;letter-spacing:0.055px;"><span class="bg">uMov.me Homedoctor e faz</span></div><div class="t " style="top:222.70px;left:140.00px;letter-spacing:-0.005px;"><span class="bg">sincronização.</span></div><div class="t " style="top:161.30px;left:451.10px;letter-spacing:0.052px;"><span class="bg">O sistema Mobilidade sincroniza</span></div><div class="t " style="top:168.20px;left:451.10px;letter-spacing:-0.034px;"><span class="bg">com o sistema uMov.me.</span></div><div class="t " style="top:261.00px;left:38.00px;letter-spacing:-0.009px;"><span class="bg">Check-In (Entrada) – Irá capturar</span></div><div class="t " style="top:268.20px;left:38.00px;letter-spacing:-0.013px;"><span class="bg">Data, Hora e Coordenadas</span></div><div class="t " style="top:274.80px;left:38.00px;letter-spacing:0.046px;"><span class="bg">Geográficas X/Y da atividade.</span></div><div class="t " style="top:361.70px;left:46.40px;letter-spacing:0.063px;"><span class="bg">Não Entrega (Pedirá o motivo</span></div><div class="t " style="top:368.40px;left:46.40px;letter-spacing:0.046px;"><span class="bg">da Não Entrega)</span></div><div class="t " style="top:418.20px;left:44.20px;letter-spacing:-0.015px;"><span class="bg">Check-Out (Saída) – Irá capturar</span></div><div class="t " style="top:425.30px;left:44.20px;letter-spacing:-0.022px;"><span class="bg">Data, Hora e Coordenadas</span></div><div class="t " style="top:432.10px;left:44.20px;letter-spacing:0.038px;"><span class="bg">Geográficas X/Y da atividade.</span></div><div class="t " style="top:380.50px;left:267.70px;letter-spacing:0.055px;"><span class="bg">Entrega Realizada</span></div><div class="t " style="top:387.70px;left:267.70px;letter-spacing:0.016px;"><span class="bg">(pedirá informações do</span></div><div class="t " style="top:394.50px;left:267.70px;letter-spacing:0.014px;"><span class="bg">Nome do Recebedor e</span></div><div class="t " style="top:401.70px;left:267.70px;letter-spacing:0.027px;"><span class="bg">Foto do Comprovante de</span></div><div class="t " style="top:408.60px;left:267.70px;letter-spacing:0.021px;"><span class="bg">Entrega Assinado.)</span></div><div class="t " style="top:205.10px;left:351.80px;letter-spacing:-0.017px;">Sincronizar IW com uMov</div><div class="t " style="top:67.30px;left:117.36px;width:200px;text-align:center;letter-spacing:-0.079px;">Liberar</div><div class="t " style="top:74.50px;left:117.37px;width:200px;text-align:center;letter-spacing:-0.051px;">prescrição no IW</div><div class="t " style="top:118.90px;left:117.91px;width:200px;text-align:center;letter-spacing:-0.178px;">Dispensar</div><div class="t " style="top:125.70px;left:118.02px;width:200px;text-align:center;letter-spacing:0.048px;">mat/med</div><div class="t " style="top:119.80px;left:174.28px;width:200px;text-align:center;letter-spacing:-0.042px;">Gerar Protocolo</div><div class="t " style="top:126.70px;left:174.26px;width:200px;text-align:center;letter-spacing:-0.080px;">em IW</div><div class="t " style="top:170.40px;left:173.79px;width:200px;text-align:center;letter-spacing:-0.219px;">Assinar</div><div class="t " style="top:177.10px;left:173.88px;width:200px;text-align:center;letter-spacing:-0.044px;">Motorista em IW</div><div class="t " style="top:262.50px;left:106.04px;width:200px;text-align:center;letter-spacing:-0.111px;">Fazer Check-In</div><div class="t " style="top:262.80px;left:173.22px;width:200px;text-align:center;letter-spacing:0.048px;">Sincronizar</div><div class="t " style="top:270.00px;left:173.22px;width:200px;text-align:center;letter-spacing:0.033px;">Celular com</div><div class="t " style="top:276.90px;left:173.11px;width:200px;text-align:center;letter-spacing:-0.187px;">uMove</div><div class="t " style="top:317.50px;left:35.94px;width:200px;text-align:center;letter-spacing:0.076px;">Prencher motivo</div><div class="t " style="top:324.80px;left:35.87px;width:200px;text-align:center;letter-spacing:-0.061px;">da Não Entrega</div><div class="t " style="top:313.70px;left:165.79px;width:200px;text-align:center;letter-spacing:-0.018px;">Preencher</div><div class="t " style="top:321.00px;left:165.77px;width:200px;text-align:center;letter-spacing:-0.052px;">dados do</div><div class="t " style="top:327.80px;left:165.81px;width:200px;text-align:center;letter-spacing:0.013px;">Recebedor</div><div class="t " style="top:394.50px;left:103.45px;width:200px;text-align:center;letter-spacing:-0.106px;">Fazer Check-Out</div><div class="t " style="top:264.30px;left:300.60px;width:200px;text-align:center;letter-spacing:-0.007px;">Criar paciente IW</div><div class="t " style="top:271.30px;left:300.59px;width:200px;text-align:center;letter-spacing:-0.022px;">em uMove</div><div class="t " style="top:378.70px;left:300.62px;width:200px;text-align:center;letter-spacing:0.049px;">Criar Tarefa IW</div><div class="t " style="top:385.70px;left:300.59px;width:200px;text-align:center;letter-spacing:-0.022px;">em uMove</div><div class="t " style="top:379.10px;left:417.46px;width:200px;text-align:center;letter-spacing:-0.075px;">Actualizar paciente</div><div class="t " style="top:386.10px;left:417.49px;width:200px;text-align:center;letter-spacing:-0.012px;">IW em uMove</div><div class="t " style="top:292.00px;left:149.20px;letter-spacing:0.134px;">Tarefa foi Entregue?</div><div class="t " style="top:324.80px;left:183.90px;letter-spacing:-0.222px;">Não</div><div class="t " style="top:324.80px;left:217.80px;letter-spacing:-0.158px;">Sim</div><div class="t " style="top:251.90px;left:458.00px;letter-spacing:-0.222px;">Não</div><div class="t " style="top:288.00px;left:500.00px;letter-spacing:-0.158px;">Sim</div><div class="t " style="top:327.00px;left:443.20px;letter-spacing:-0.250px;">Não</div><div class="t " style="top:342.70px;left:499.20px;letter-spacing:-0.158px;">Sim</div><div class="t " style="top:248.80px;left:450.99px;width:200px;text-align:center;letter-spacing:-0.018px;">Paciente IW existe</div><div class="t " style="top:255.90px;left:451.00px;width:200px;text-align:center;">em uMove?</div><div class="t " style="top:293.50px;left:448.21px;width:200px;text-align:center;letter-spacing:0.022px;">Paciente uMove</div><div class="t " style="top:300.50px;left:448.20px;width:200px;text-align:center;">precisa ser</div><div class="t " style="top:307.50px;left:448.20px;width:200px;text-align:center;">Actualizado?</div></div>
</div></body></html>
